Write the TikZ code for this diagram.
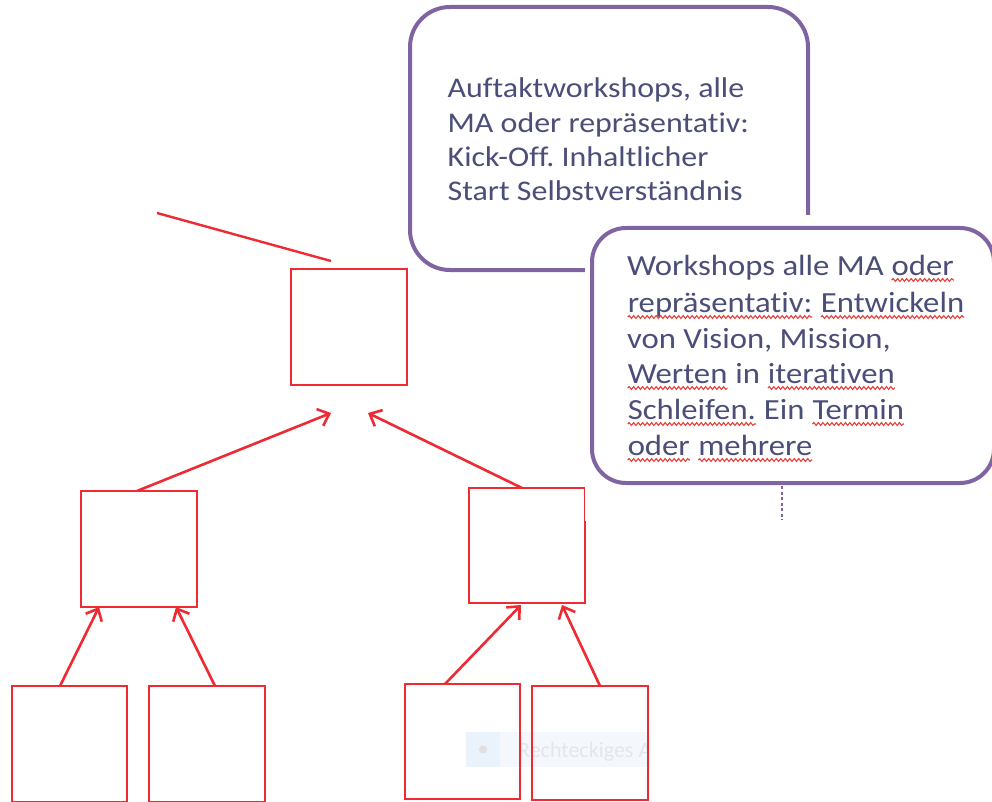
\documentclass[tikz,border=0pt]{standalone}
\usepackage{fontspec}
\setmainfont{Carlito}[Ligatures=NoCommon, FakeStretch=1.12]
\newfontfamily\tipfont{Carlito}[Ligatures=NoCommon]
\frenchspacing
\usetikzlibrary{arrows.meta,decorations.pathmorphing}
\definecolor{boxred}{HTML}{EE2A33}
\definecolor{callpurple}{HTML}{8064A2}
\definecolor{calltext}{HTML}{4A4E78}
\definecolor{wavered}{HTML}{E8403C}
\definecolor{tipblueA}{HTML}{EAF2FB}
\definecolor{tipblueB}{HTML}{F4F8FD}
\definecolor{tipgray}{HTML}{E6E6E6}
\definecolor{tipdot}{HTML}{E0E0E0}
\tikzset{
  redbox/.style={draw=boxred, line width=2.8pt, minimum width=116pt, minimum height=116pt, inner sep=0pt, outer sep=0pt},
  redarrow/.style={draw=boxred, line width=2.6pt, -{Straight Barb[length=10pt,width=18pt]}},
  redline/.style={draw=boxred, line width=2.4pt},
  callout/.style={draw=callpurple, line width=4pt, fill=white, inner sep=0pt, outer sep=0pt},
  lineA/.style={text=calltext, font=\fontsize{28.5}{34}\selectfont, anchor=base west, inner sep=0pt},
  lineB/.style={text=calltext, font=\fontsize{29.2}{36}\selectfont, anchor=base west, inner sep=0pt},
  wavyline/.style={draw=wavered, line width=1.1pt, decorate, decoration={snake, amplitude=1.4pt, segment length=4.5pt}},
  dashline/.style={draw=callpurple, line width=1.3pt, dash pattern=on 3pt off 2.5pt},
}
\newcommand\wv[1]{\tikz[baseline=(wvw.base)]{\node[inner sep=0pt,outer sep=0pt](wvw){#1};\draw[wavyline]([yshift=-5pt]wvw.base west)--([yshift=-5pt]wvw.base east);}}
\begin{document}
\begin{tikzpicture}[x=1pt,y=-1pt]
\useasboundingbox (0,0) rectangle (992,802);
% faint tooltip
\begin{scope}
\clip (466,732) rectangle (648,767);
\fill[tipblueB] (466,732) rectangle (650,767);
\fill[tipblueA] (466,732) rectangle (500,767);
\fill[tipdot] (483,749.5) circle (4);
\node[anchor=base west, text=tipgray, font=\tipfont\fontsize{22}{26}\selectfont, inner sep=0pt] (tipt) at (518,757.5) {Rechteckiges A};
\end{scope}
% callout 1
\node[callout, rounded corners=40pt, minimum width=398pt, minimum height=263pt] (c1) at (609,138.5) {};
\node[lineA] (c1a) at (447.5,98) {Auftaktworkshops, alle};
\node[lineA] (c1b) at (447.5,132.5) {MA oder repräsentativ:};
\node[lineA] (c1c) at (447.5,167) {Kick-Off. Inhaltlicher};
\node[lineA] (c1d) at (447.5,201) {Start Selbstverständnis};
% red boxes
\node[redbox] (n0) at (349,327) {};
\node[redbox] (n1) at (139,549) {};
\node[redbox, minimum height=115pt] (n2) at (527,545.5) {};
\node[redbox, minimum width=115pt] (n3) at (69.5,744) {};
\node[redbox] (n4) at (207,744) {};
\node[redbox, minimum width=115pt, minimum height=115pt] (n5) at (462.5,741.5) {};
\node[redbox, minimum height=114pt] (n6) at (590,743) {};
% connectors
\coordinate (l1) at (157,213);
\draw[redline] (l1) -- ([xshift=-18pt,yshift=8pt]n0.north);
\coordinate (t1) at (331,413);
\coordinate (t2) at (368,413);
\draw[redarrow] ([xshift=-2pt]n1.north) -- (t1);
\draw[redarrow] ([xshift=-5pt]n2.north) -- (t2);
\coordinate (t3) at (99,607);
\coordinate (t4) at (176,607);
\draw[redarrow] ([xshift=-9.5pt]n3.north) -- (t3);
\draw[redarrow] ([xshift=8pt]n4.north) -- (t4);
\coordinate (t5) at (521,605);
\coordinate (t6) at (562,605);
\draw[redarrow] ([xshift=-17.5pt]n5.north) -- (t5);
\draw[redarrow] ([xshift=10pt]n6.north) -- (t6);
% white text box area of callout 2
\fill[white] (584.5,215) rectangle (992,521);
\node[callout, rounded corners=34pt, minimum width=402pt, minimum height=255pt] (c2) at (793,355.5) {};
\node[lineB] (c2a) at (627,275) {Workshops alle MA \wv{oder}};
\node[lineB] (c2b) at (627,312) {\wv{repräsentativ:} \wv{Entwickeln}};
\node[lineB] (c2c) at (627,348) {von Vision, Mission,};
\node[lineB] (c2d) at (627,383) {\wv{Werten} in \wv{iterativen}};
\node[lineB] (c2e) at (627,419) {\wv{Schleifen.} Ein \wv{Termin}};
\node[lineB] (c2f) at (627,455) {\wv{oder} \wv{mehrere}};
\coordinate (d1) at (782,486);
\coordinate (d2) at (782,520);
\draw[dashline] (d1) -- (d2);
\end{tikzpicture}
\end{document}
